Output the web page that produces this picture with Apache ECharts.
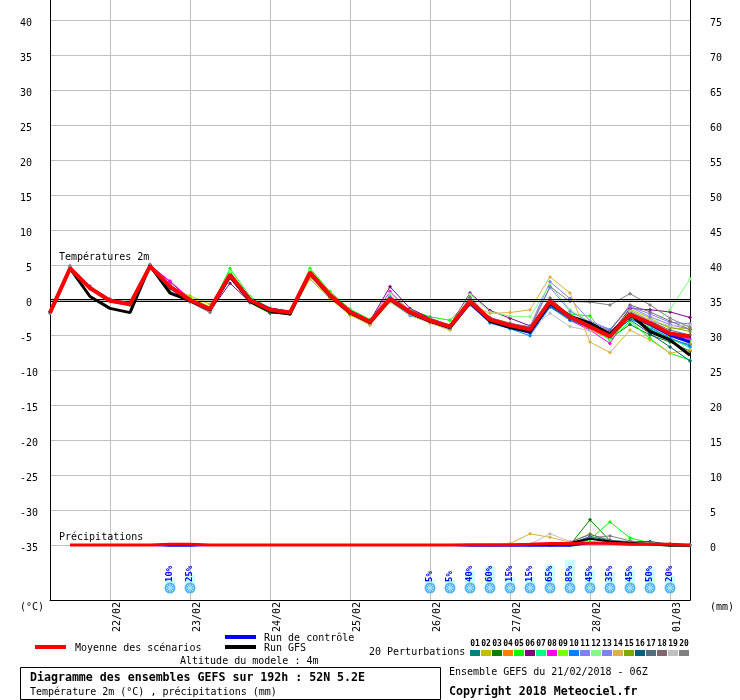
<!DOCTYPE html>
<html><head><meta charset="utf-8">
<style>html,body{margin:0;padding:0;background:#fff}#c{width:740px;height:700px}</style>
<script src="https://cdn.jsdelivr.net/npm/echarts@6/dist/echarts.min.js"></script>
</head><body><div id="c"></div>
<script>
const times = ['21/02 06Z','21/02 12Z','21/02 18Z','22/02','22/02 06Z','22/02 12Z','22/02 18Z','23/02','23/02 06Z','23/02 12Z','23/02 18Z','24/02','24/02 06Z','24/02 12Z','24/02 18Z','25/02','25/02 06Z','25/02 12Z','25/02 18Z','26/02','26/02 06Z','26/02 12Z','26/02 18Z','27/02','27/02 06Z','27/02 12Z','27/02 18Z','28/02','28/02 06Z','28/02 12Z','28/02 18Z','01/03','01/03 06Z'];
const tempTicks = [-35,-30,-25,-20,-15,-10,-5,0,5,10,15,20,25,30,35,40];
const precipTicks = [0,5,10,15,20,25,30,35,40,45,50,55,60,65,70,75];
const memberColors = ['#008080','#c0c000','#008000','#ff8000','#00ff00','#800080','#00ff80','#ff00ff','#80ff00','#0080ff','#8080ff','#80ff80','#8080ff','#e0b040','#80a800','#006080','#507080','#806870','#c0c0c0','#808080'];
const memberNames = ['01','02','03','04','05','06','07','08','09','10','11','12','13','14','15','16','17','18','19','20'];

const tempMean = [-1.8,4.5,1.7,-0.1,-0.6,4.8,1.9,0,-1.3,3.6,0,-1.4,-1.8,3.9,0.7,-1.7,-3.1,0.2,-1.7,-2.9,-3.8,-0.2,-2.8,-3.6,-4.2,-0.2,-2.4,-3.8,-5.2,-2.1,-3.3,-4.8,-5.2];
const tempGfs = [-1.8,4.5,0.5,-1.2,-1.8,4.9,1.0,-0.1,-1.4,3.4,-0.2,-1.6,-2,3.8,0.6,-1.8,-3.2,0.1,-1.8,-3,-3.9,-0.3,-3,-3.9,-4.5,-0.4,-2.3,-3.3,-4.9,-2,-4.5,-5.7,-7.9];
const tempCtrl = [-1.8,4.5,1.7,-0.1,-0.6,4.8,1.8,-0.1,-1.4,3.5,0.1,-1.3,-1.8,3.8,0.6,-1.8,-3.1,0.1,-1.8,-3,-3.9,-0.4,-3,-3.9,-4.6,-0.5,-2.4,-3.4,-4.9,-2.2,-3.5,-5,-6];
const t01 = [-1.8,4.6,1.8,0,-0.5,4.9,1.7,-0.1,-1.4,3.5,-0.1,-1.5,-1.9,3.8,0.5,-1.8,-3.2,0,-1.9,-3,-3.9,-0.4,-3,-3.8,-4.4,-0.8,-2.8,-4,-5.4,-2.6,-4.2,-5.6,-6.4];
const t02 = [-1.8,4.5,1.7,-0.1,-0.6,4.7,1.6,0.6,-0.6,3.4,-0.2,-1.3,-1.9,3,0.2,-2.2,-3.3,-0.1,-1.9,-3.1,-4,-0.3,-2.9,-3.9,-4.5,-0.5,-2.5,-4.1,-5.1,-1.3,-2.6,-4,-4.1];
const t03 = [-1.8,4.5,1.7,-0.1,-0.6,4.8,1.1,-0.1,-1.5,3.3,-0.4,-1.9,-2,3.7,0.4,-2,-3.2,0.1,-1.8,-3,-3.9,-0.3,-3,-3.8,-4.5,-0.9,-2.6,-3.5,-5.5,-3.5,-5,-6,-7.3];
const t04 = [-1.8,4.4,1.6,-0.2,-0.7,4.7,1.7,-0.2,-1.6,3.3,-0.1,-1.5,-1.9,3.7,0.5,-2,-3.5,0,-1.9,-3.2,-4.1,-0.6,-3.1,-4,-4.6,-1,-2.7,-4.2,-5.6,-2.3,-3.6,-5,-6.2];
const t05 = [-1.8,4.6,1.8,0,-0.5,4.8,2,0.1,-1.2,4.5,0.5,-1.2,-1.7,4.5,1.2,-1.3,-2.8,0.5,-1.4,-2.4,-2.9,0,-2.7,-3.5,-4.4,-0.6,-2,-2.3,-5.8,-3,-5.5,-7.6,-8.6];
const t06 = [-1.8,4.5,1.7,-0.1,-0.6,4.9,2.6,0.1,-1.6,2.4,-0.3,-1.5,-1.9,3.9,0.9,-1.6,-3,1.9,-1.2,-2.6,-3.6,1,-1.5,-2.6,-3.7,-0.6,-2.6,-3.8,-5,-1.2,-1.4,-1.7,-2.5];
const t07 = [-1.8,4.5,1.8,0,-0.5,4.8,1.8,0,-1.2,3.9,0.3,-1.2,-1.6,4,0.9,-1.4,-2.9,0.4,-1.5,-2.7,-3.6,0,-2.6,-3.5,-4.3,-0.3,-2.2,-3.6,-5.8,-2.4,-4,-5.5,-6.8];
const t08 = [-1.8,4.6,1.9,0.1,-0.4,5,2.7,0.2,-1.1,3.7,0.2,-1.3,-1.7,4.1,0.8,-1.5,-3.1,1.2,-1.6,-2.8,-3.7,-0.1,-2.7,-3.6,-4.2,-0.4,-2.9,-4.3,-6.2,-1.8,-3.2,-4.9,-5.6];
const t09 = [-1.8,4.5,1.7,-0.1,-0.6,4.8,1.9,0.4,-1,3.8,0.2,-1.2,-1.7,4.3,1,-1.5,-3,0.3,-1.6,-2.9,-3.8,-0.2,-2.8,-3.5,-4.1,-0.3,-2.5,-3.9,-5.6,-2,-3.7,-5.2,-5.9];
const t10 = [-1.8,4.4,1.6,-0.2,-0.7,4.7,1.8,-0.1,-1.3,3.2,0.1,-1.2,-1.9,3.6,0.6,-1.9,-3.4,-0.2,-2.2,-3.2,-4.2,-0.7,-3.3,-4.1,-5.1,-1,-2.9,-4,-5.3,-2.7,-3.9,-5.4,-6.6];
const t11 = [-1.8,4.5,1.8,0,-0.5,4.9,2.2,0.1,-1.2,3.5,0.2,-1.2,-1.6,3.9,0.8,-1.5,-3,0.5,-1.5,-2.7,-3.7,0.1,-2.5,-3.4,-3.8,2.6,0.2,-3,-4.2,-0.9,-2,-3.2,-3.4];
const t12 = [-1.8,4.6,1.8,0,-0.5,4.8,1.9,0,-1.3,4.1,0.4,-1.3,-1.8,4.1,0.9,-1.5,-3,0.9,-1.5,-2.8,-3.7,0.8,-1.7,-2.3,-2.4,2.2,-1.4,-3.2,-5.7,-2.5,-3.8,-1.4,3];
const t13 = [-1.8,4.5,1.7,-0.1,-0.6,4.8,2,0,-1.4,3.3,-0.1,-1.4,-1.8,3.7,0.7,-1.8,-3.2,0,-1.8,-2.9,-3.9,-0.4,-3,-3.7,-4.1,1.8,-1.6,-3.2,-4.3,-1,-2.4,-3.5,-4.2];
const t14 = [-1.8,4.4,1.6,-0.2,-0.7,4.7,1.7,-0.1,-1.5,3.2,-0.2,-1.6,-2,3.3,0.2,-2.1,-3.6,-0.3,-2.1,-3.3,-4.3,-0.6,-1.9,-1.8,-1.4,3.3,1,-6,-7.5,-4.3,-5.7,-7.6,-7.1];
const t15 = [-1.8,4.5,1.7,-0.1,-0.6,4.8,1.8,0.2,-1.1,3.5,0,-1.5,-1.9,3.8,0.5,-2,-3.3,0.1,-1.8,-3.1,-4,-0.3,-2.9,-3.7,-4.4,-0.6,-2.5,-3.7,-4.7,-1.5,-2.9,-3.9,-4.5];
const t16 = [-1.8,4.6,1.8,0,-0.6,4.8,1.8,-0.1,-1.4,3.4,-0.1,-1.6,-1.9,3.8,0.6,-1.9,-3.2,0,-1.8,-3,-3.9,-0.4,-3.1,-3.9,-4.7,-0.9,-2.7,-3.8,-5,-2.8,-4.8,-6.7,-8.7];
const t17 = [-1.8,4.7,1.9,0.1,-0.5,4.9,2,0,-1.5,3.3,-0.1,-1.4,-1.8,3.9,0.7,-1.7,-3,0.2,-1.7,-3,-3.8,-0.3,-2.8,-3.6,-4.1,-0.2,-2.4,-3.7,-4.6,-1.7,-3,-4.3,-5];
const t18 = [-1.8,4.7,1.9,0.1,-0.4,5,2.1,0,-1.6,3.1,-0.3,-1.7,-2,3.7,0.6,-1.8,-3.1,0.2,-1.9,-3.1,-3.8,0.4,-2.6,-3.4,-3.9,0.3,-2.3,-3.5,-4.4,-0.7,-1.7,-3,-4.2];
const t19 = [-1.8,4.8,2,0.1,-0.5,5,2,-0.2,-1.7,3.2,-0.2,-1.5,-1.9,3.8,0.6,-1.8,-3.2,0,-1.9,-3,-3.9,-0.2,-2.8,-3.6,-4.1,-1.9,-3.8,-4.4,-4.8,-1.6,-2.9,-3.7,-3.6];
const t20 = [-1.8,4.9,2,0.1,-0.4,5.1,2.1,-0.3,-1.8,3.3,-0.1,-1.4,-1.9,3.9,0.7,-1.7,-3.1,0.1,-1.7,-3,-3.7,0.2,-2.5,-3.3,-3.9,1.9,-0.2,-0.3,-0.7,0.9,-0.7,-2.6,-3.9];
const tempMembers = [t01,t02,t03,t04,t05,t06,t07,t08,t09,t10,t11,t12,t13,t14,t15,t16,t17,t18,t19,t20];

const precipMean = [null,0,0,0,0,0,0.1,0.1,0,0,0,0,0,0,0,0,0,0,0,0,0,0.05,0.05,0.05,0.1,0.2,0.2,0.3,0.25,0.1,0.1,0.1,0];
const precipCtrl = [null,0,0,0,0,0,-0.1,-0.1,0,0,0,0,0,0,0,0,0,0,0,0,0,-0.1,-0.1,-0.1,-0.1,-0.1,-0.1,0.3,0.2,0.1,0.1,0,0];
const precipGfs = [null,0,0,0,0,0,0,0,0,0,0,0,0,0,0,0,0,0,0,0,0,0,0,0,0,0,0.3,0.9,0.5,0.3,0.1,-0.1,-0.1];
const n = null;
const p03 = [n,n,n,n,n,n,n,n,n,n,n,n,n,n,n,n,n,n,n,n,n,n,n,n,n,n,0,3.6,0.6,0.2,0.1,0,n];
const p05 = [n,n,n,n,n,n,n,n,n,n,n,n,n,n,n,n,n,n,n,n,n,n,n,n,n,n,0,0.8,3.3,1,0.3,0,n];
const p14 = [n,n,n,n,n,n,n,n,n,n,n,n,n,n,n,n,n,n,n,n,n,n,0,0.2,1.6,1.1,0.4,1.6,0.5,0.3,0.3,0.2,0];
const p16 = [n,n,n,n,n,n,n,n,n,n,n,n,n,n,n,n,n,n,n,n,n,n,n,n,n,0,0.2,1.2,0.6,0.5,0.5,0.1,0];
const p17 = [n,n,n,n,n,n,n,n,n,n,n,n,n,n,n,n,n,n,n,n,n,n,n,n,n,0,0.4,1.5,0.7,0.4,0.2,0,n];
const p19 = [n,n,n,n,n,n,n,n,n,n,n,n,n,n,n,n,n,n,n,n,n,n,n,0,0.1,1.6,0.5,0.3,0.2,0.1,0.1,0,n];
const p20 = [n,n,n,n,n,n,n,n,n,n,n,n,n,n,n,n,n,n,n,n,n,n,n,n,0,0.1,0.3,1,1.3,0.6,0.2,0.1,0];
const precipMembers = [[p03,2],[p05,4],[p14,13],[p16,15],[p17,16],[p19,18],[p20,19]];

const snowIndex = [6,7,19,20,21,22,23,24,25,26,27,28,29,30,31];
const snowPct = [10,25,5,5,40,60,15,15,65,85,45,35,45,50,20];

const MONO = '"DejaVu Sans Mono", monospace';
const GRID = '#c0c0c0';
const span = 300/7;
const isDay = (i) => times[i].length === 5;
const chart = echarts.init(document.getElementById('c'), null, {renderer:'canvas'});

function line(name, data, color, width, yAxisIndex, sym, z){
  return {name, type:'line', data, yAxisIndex, z, silent:true, animation:false, connectNulls:false,
    symbol: sym ? 'diamond' : 'none', symbolSize: sym ? 4 : 0, showSymbol: !!sym,
    lineStyle:{color, width}, itemStyle:{color}};
}
const series = [];
series.push({name:'zero', type:'line', data:[], z:3, silent:true, animation:false,
  markLine:{silent:true, animation:false, symbol:'none', label:{show:false},
    lineStyle:{color:'#000', width:1, type:'solid'}, data:[{yAxis:0.14},{yAxis:-0.14}]}});
tempMembers.forEach((d,i)=>series.push(line('T'+memberNames[i], d, memberColors[i], 1, 0, true, 4)));
series.push(line('Run de contrôle', tempCtrl, '#0000ff', 3, 0, false, 10));
series.push(line('Run GFS', tempGfs, '#000000', 3, 0, false, 20));
series.push(line('Moyenne des scénarios', tempMean, '#ff0000', 4, 0, false, 30));
precipMembers.forEach(([d,c])=>series.push(line('P'+memberNames[c], d, memberColors[c], 1, 1, true, 4)));
series.push(line('Précip contrôle', precipCtrl, '#0000ff', 2, 1, false, 10));
series.push(line('Précip GFS', precipGfs, '#000000', 2, 1, false, 20));
series.push(line('Précip moyenne', precipMean, '#ff0000', 3, 1, false, 30));
series.push({type:'custom', name:'Neige', z:31, silent:true, animation:false, clip:false, yAxisIndex:0,
  data:snowIndex.map((x,i)=>[x,snowPct[i]]), encode:{x:0,y:1},
  renderItem(params, api){
    const p = api.coord([api.value(0), -288/7]);
    const cx = p[0], cy = p[1], pct = api.value(1), h = pct*0.25;
    const kids = [
      {type:'rect', shape:{x:cx-5,y:cy-7-h,width:10,height:h+4}, style:{fill:'#c8ffff'}},
      {type:'circle', shape:{cx,cy,r:5.5}, style:{fill:'#58b4f0'}}
    ];
    [[-4,0,4,0],[0,-4,0,4],[-3,-3,3,3],[-3,3,3,-3]].forEach(s=>kids.push(
      {type:'line', shape:{x1:cx+s[0],y1:cy+s[1],x2:cx+s[2],y2:cy+s[3]}, style:{stroke:'#b8e8ff',lineWidth:1}}));
    kids.push({type:'text', x:cx, y:cy-6, rotation:Math.PI/2,
      style:{text:pct+'%', align:'left', verticalAlign:'middle', fill:'#0000ff', font:'bold 9px '+MONO}});
    return {type:'group', children:kids};
  }});

function txt(text,x,y,opt){
  return {type:'text', silent:true, z:40, x, y,
    style:Object.assign({text, fill:'#000', font:'10px '+MONO, verticalAlign:'middle', align:'left'},opt||{})};
}
function bar(x,y,w,h,fill){ return {type:'rect', silent:true, z:40, shape:{x,y,width:w,height:h}, style:{fill}}; }
const BOLD = 'bold 11.6px '+MONO;
const graphic = [
  txt('Températures 2m',59,257), txt('Précipitations',59,537),
  txt('(°C)',20,607), txt('(mm)',710,607),
  bar(35,645,31,4,'#ff0000'), txt('Moyenne des scénarios',75,648),
  bar(225,635,31,4,'#0000ff'), txt('Run de contrôle',264,638),
  bar(225,645,31,4,'#000000'), txt('Run GFS',264,648),
  txt('Altitude du modele : 4m',180,661),
  {type:'rect', silent:true, z:40, shape:{x:20.5,y:667.5,width:420,height:32}, style:{fill:'none',stroke:'#000',lineWidth:1}},
  txt('Diagramme des ensembles GEFS sur 192h : 52N 5.2E',30,678,{font:BOLD}),
  txt('Température 2m (°C) , précipitations (mm)',30,692),
  txt('20 Perturbations',369,652),
  txt('Ensemble GEFS du 21/02/2018 - 06Z',449,672),
  txt('Copyright 2018 Meteociel.fr',449,692,{font:BOLD})
];
memberNames.forEach((nm,i)=>{
  graphic.push(bar(470+i*11,650,10,6,memberColors[i]));
  graphic.push(txt(nm,475+i*11,644,{font:'bold 8px '+MONO,align:'center'}));
});

chart.setOption({
  animation:false, backgroundColor:'#fff',
  grid:{left:50,right:50,top:0,bottom:100,containLabel:false},
  xAxis:{type:'category', data:times, boundaryGap:false,
    axisLine:{onZero:false, lineStyle:{color:'#000',width:1}}, axisTick:{show:false},
    splitLine:{show:true, interval:(i)=>isDay(i), lineStyle:{color:GRID,width:1}},
    axisLabel:{interval:(i)=>isDay(i), rotate:90, margin:2, color:'#000', fontFamily:MONO, fontSize:10,
      verticalAlign:'top', lineHeight:14}},
  yAxis:[
    {type:'value', min:-span, max:span, position:'left',
      axisLine:{show:true,lineStyle:{color:'#000',width:1}},
      axisTick:{show:false, customValues:tempTicks},
      splitLine:{show:true, lineStyle:{color:GRID,width:1}},
      axisLabel:{customValues:tempTicks, color:'#000', fontFamily:MONO, fontSize:10, margin:30, align:'left', verticalAlign:'top', lineHeight:6,
        formatter:(v)=>{const r=Math.round(v); return (r>=0 && r<10 ? ' ' : '')+r;}}},
    {type:'value', min:35-span, max:35+span, position:'right',
      axisLine:{show:true,lineStyle:{color:'#000',width:1}},
      axisTick:{show:false, customValues:precipTicks},
      splitLine:{show:false},
      axisLabel:{customValues:precipTicks, color:'#000', fontFamily:MONO, fontSize:10, margin:20, align:'left', verticalAlign:'top', lineHeight:6,
        formatter:(v)=>String(Math.round(v))}}
  ],
  series, graphic
});
</script></body></html>
